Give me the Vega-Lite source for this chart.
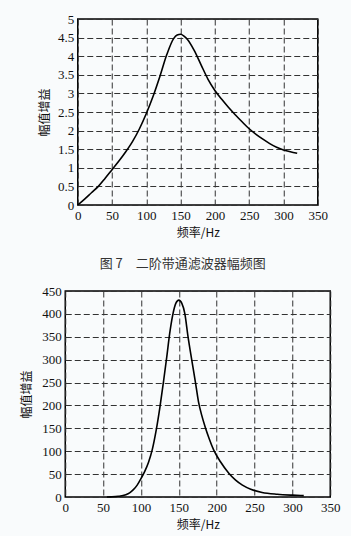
{
  "$schema": "https://vega.github.io/schema/vega-lite/v6.json",
  "background": "#f9fbfc",
  "padding": {"left": 20, "top": 12, "right": 10, "bottom": 5},
  "autosize": {"type": "pad"},
  "center": true,
  "spacing": 12,
  "config": {
    "font": "'Liberation Serif', 'Noto Sans CJK SC', serif",
    "view": {"stroke": "#000", "strokeWidth": 1.5},
    "axis": {
      "grid": true, "gridColor": "#333", "gridDash": [6, 3], "gridWidth": 1, "gridOpacity": 1,
      "ticks": false, "domain": false,
      "labelFont": "'Liberation Serif', 'DejaVu Serif', serif", "labelFontSize": 13, "labelColor": "#111", "labelPadding": 4,
      "labelOverlap": false, "labelFlush": false,
      "titleFont": "'Noto Sans CJK SC'", "titleFontSize": 12, "titleFontWeight": "normal", "titleColor": "#111"
    }
  },
  "vconcat": [
    {
      "width": 240,
      "height": 186,
      "title": {"text": "图 7\u3000二阶带通滤波器幅频图", "orient": "bottom", "anchor": "middle", "font": "'Noto Sans CJK SC'", "fontSize": 13, "fontWeight": "normal", "color": "#333", "offset": 20, "dx": -15},
      "data": {"values": [
        {"f": 0, "g": 0}, {"f": 10, "g": 0.16}, {"f": 20, "g": 0.33}, {"f": 30, "g": 0.5},
        {"f": 40, "g": 0.72}, {"f": 50, "g": 0.95}, {"f": 60, "g": 1.18}, {"f": 70, "g": 1.43},
        {"f": 80, "g": 1.71}, {"f": 90, "g": 2.05}, {"f": 100, "g": 2.46}, {"f": 110, "g": 2.93},
        {"f": 120, "g": 3.47}, {"f": 130, "g": 4.05}, {"f": 140, "g": 4.48}, {"f": 145, "g": 4.57},
        {"f": 150, "g": 4.59}, {"f": 155, "g": 4.54}, {"f": 160, "g": 4.45}, {"f": 170, "g": 4.15},
        {"f": 180, "g": 3.76}, {"f": 190, "g": 3.38}, {"f": 200, "g": 3.08},
        {"f": 210, "g": 2.84}, {"f": 220, "g": 2.62}, {"f": 230, "g": 2.42}, {"f": 240, "g": 2.23},
        {"f": 250, "g": 2.05}, {"f": 260, "g": 1.9}, {"f": 270, "g": 1.77}, {"f": 280, "g": 1.65},
        {"f": 290, "g": 1.55}, {"f": 300, "g": 1.48}, {"f": 310, "g": 1.43}, {"f": 320, "g": 1.39}
      ]},
      "mark": {"type": "line", "color": "#000", "strokeWidth": 1.6, "interpolate": "monotone"},
      "encoding": {
        "x": {"field": "f", "type": "quantitative", "scale": {"domain": [0, 350], "nice": false},
              "axis": {"values": [0, 50, 100, 150, 200, 250, 300, 350], "title": "频率/Hz", "titlePadding": 5}},
        "y": {"field": "g", "type": "quantitative", "scale": {"domain": [0, 5], "nice": false},
              "axis": {"values": [0, 0.5, 1, 1.5, 2, 2.5, 3, 3.5, 4, 4.5, 5], "format": "~g", "title": "幅值增益", "titlePadding": 6}}
      }
    },
    {
      "width": 265,
      "height": 206,
      "data": {"values": [
        {"f": 55, "g": 0}, {"f": 60, "g": 0.3}, {"f": 70, "g": 1.5}, {"f": 80, "g": 5},
        {"f": 85, "g": 9}, {"f": 90, "g": 16}, {"f": 95, "g": 26}, {"f": 100, "g": 40},
        {"f": 105, "g": 56}, {"f": 110, "g": 76}, {"f": 115, "g": 104}, {"f": 120, "g": 145},
        {"f": 125, "g": 196}, {"f": 130, "g": 255}, {"f": 134, "g": 305}, {"f": 138, "g": 358},
        {"f": 142, "g": 398}, {"f": 146, "g": 423}, {"f": 150, "g": 430}, {"f": 154, "g": 423},
        {"f": 158, "g": 400}, {"f": 162, "g": 352}, {"f": 167, "g": 300}, {"f": 172, "g": 250},
        {"f": 176, "g": 208}, {"f": 180, "g": 180}, {"f": 185, "g": 152}, {"f": 190, "g": 128},
        {"f": 196, "g": 103}, {"f": 205, "g": 77}, {"f": 216, "g": 52}, {"f": 225, "g": 37},
        {"f": 234, "g": 26}, {"f": 245, "g": 17}, {"f": 260, "g": 10}, {"f": 280, "g": 6},
        {"f": 300, "g": 4}, {"f": 315, "g": 3}
      ]},
      "mark": {"type": "line", "color": "#000", "strokeWidth": 1.6, "interpolate": "monotone"},
      "encoding": {
        "x": {"field": "f", "type": "quantitative", "scale": {"domain": [0, 350], "nice": false},
              "axis": {"values": [0, 50, 100, 150, 200, 250, 300, 350], "title": "频率/Hz", "titlePadding": 5}},
        "y": {"field": "g", "type": "quantitative", "scale": {"domain": [0, 450], "nice": false},
              "axis": {"values": [0, 50, 100, 150, 200, 250, 300, 350, 400, 450], "title": "幅值增益", "titlePadding": 8}}
      }
    }
  ]
}
